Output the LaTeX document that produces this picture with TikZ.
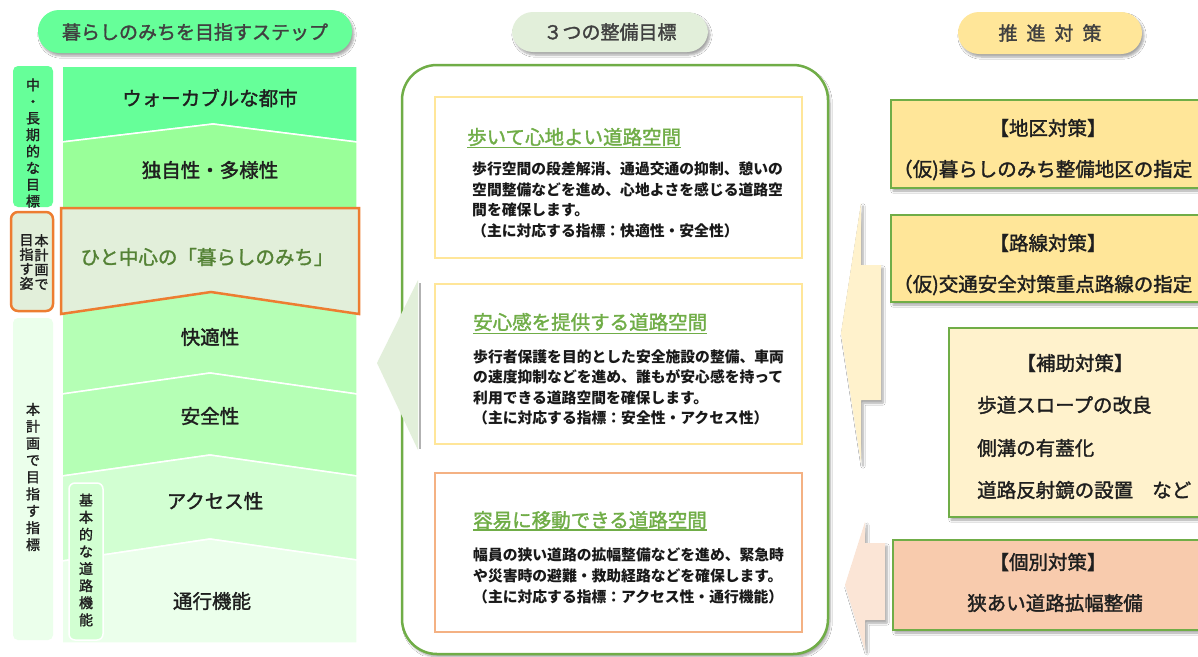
\documentclass[tikz,border=0pt]{standalone}
\usepackage{fontspec}
\setmainfont{Noto Sans CJK JP}
\newfontfamily\jpmed{Noto Sans CJK JP}[FakeBold=1.6]
\usetikzlibrary{shadows.blur}
\definecolor{gA}{HTML}{66FF99}
\definecolor{gB}{HTML}{99FF99}
\definecolor{gC}{HTML}{B5FFB5}
\definecolor{gD}{HTML}{D2FFD2}
\definecolor{gE}{HTML}{EBFFEB}
\definecolor{pale}{HTML}{E2EFDA}
\definecolor{orng}{HTML}{ED7D31}
\definecolor{olive}{HTML}{548235}
\definecolor{grn}{HTML}{70AD47}
\definecolor{ylw}{HTML}{FFE699}
\definecolor{ylwl}{HTML}{FFF2CC}
\definecolor{salm}{HTML}{F8CBAD}
\definecolor{salml}{HTML}{FBE5D6}
\definecolor{salmb}{HTML}{F4B183}
\definecolor{txt}{HTML}{404040}
\tikzset{
  band/.style={draw=white, line width=1.5pt},
  lbl/.style={font=\jpmed\fontsize{19.5}{23}\selectfont, text=black!88, inner sep=0},
  vlbl/.style={font=\jpmed\fontsize{14}{16.6}\selectfont, align=center, inner sep=0, text=black!88},
  softshadow/.style={blur shadow={shadow xshift=2pt, shadow yshift=-3pt, shadow blur steps=6, shadow opacity=35}},
  pill/.style={rounded corners=21pt, softshadow},
  hdr/.style={font=\jpmed\fontsize{19}{23}\selectfont, text=txt, inner sep=0},
  ttl/.style={font=\jpmed\fontsize{19.5}{23}\selectfont, text=grn, anchor=west, inner sep=0},
  body/.style={font=\bfseries\fontsize{14.8}{20.8}\selectfont, align=left, anchor=north west, inner sep=0, text=black!90},
  uline/.style={draw=grn, line width=1.5pt},
  rbox/.style={draw=grn, line width=1.2pt, softshadow},
  rtxt/.style={font=\jpmed\fontsize{19.5}{23}\selectfont, inner sep=0, text=black!88},
}
\begin{document}
\begin{tikzpicture}[x=1pt, y=-1pt]
\useasboundingbox (0,0) rectangle (1198,656);
\fill[white] (0,0) rectangle (1198,656);

% ---------------- left column ----------------
\path[pill, fill=gA] (38,10) rectangle (352,53);
\node[hdr] (hL) at (195,32) {暮らしのみちを目指すステップ};

\path[band, fill=gA] (62,66) -- (357,66) -- (357,142) -- (213,124) -- (62,142) -- cycle;
\path[band, fill=gB] (62,142) -- (213,124) -- (357,142) -- (357,210) -- (62,210) -- cycle;
\path[band, fill=gC] (62,290) -- (357,290) -- (357,394) -- (210,373) -- (62,394) -- cycle;
\path[band, fill=gC] (62,394) -- (210,373) -- (357,394) -- (357,476) -- (210,455) -- (62,476) -- cycle;
\path[band, fill=gD] (62,476) -- (210,455) -- (357,476) -- (357,560) -- (210,539) -- (62,561) -- cycle;
\path[band, fill=gE] (62,561) -- (210,539) -- (357,560) -- (357,643) -- (62,643) -- cycle;
\path[draw=orng, line width=2.5pt, fill=pale] (61,208) -- (359,208) -- (359,314) -- (211,292) -- (61,314) -- cycle;

\node[lbl] (s1) at (210,98) {ウォーカブルな都市};
\node[lbl] (s2) at (210,170) {独自性・多様性};
\node[lbl, text=olive] (s3) at (207,257) {ひと中心の「暮らしのみち」};
\node[lbl] (s4) at (210,337) {快適性};
\node[lbl] (s5) at (210,416) {安全性};
\node[lbl] (s6) at (215,501) {アクセス性};
\node[lbl] (s7) at (212,601) {通行機能};

\path[fill=gA, rounded corners=5pt] (13,66) rectangle (53,207);
\node[vlbl] (v1) at (33,143) {中\\・\\長\\期\\的\\な\\目\\標};
\path[fill=pale, draw=orng, line width=2.5pt, rounded corners=7pt] (11,212) rectangle (53,311);
\node[vlbl, font=\jpmed\fontsize{14}{14.5}\selectfont] (v2a) at (41.5,262) {本\\計\\画\\で};
\node[vlbl, font=\jpmed\fontsize{14}{14.5}\selectfont] (v2b) at (26.5,262) {目\\指\\す\\姿};
\path[fill=gE, rounded corners=5pt] (13,318) rectangle (53,640);
\node[vlbl, font=\jpmed\fontsize{14}{16.9}\selectfont] (v3) at (33,477) {本\\計\\画\\で\\目\\指\\す\\指\\標};
\path[fill=gD, draw=white, line width=1.5pt, rounded corners=6pt] (69,483) rectangle (103,640);
\node[vlbl, font=\jpmed\fontsize{14}{17.1}\selectfont] (v4) at (86,560) {基\\本\\的\\な\\道\\路\\機\\能};

% ---------------- middle column ----------------
\path[pill, fill=pale] (512,12) rectangle (708,52);
\node[hdr] (hM) at (610,32) {３つの整備目標};

\path[draw=grn, line width=2.5pt, fill=white, rounded corners=35pt, softshadow] (402,65) rectangle (828,654);

\path[draw=ylw, line width=1.5pt, fill=white] (435,97) rectangle (802,258);
\node[ttl] (t1) at (467,137) {歩いて心地よい道路空間};
\draw[uline] ([yshift=-1pt]t1.south west) -- ([yshift=-1pt]t1.south east);
\node[body] (b1) at (472,161.5) {歩行空間の段差解消、通過交通の抑制、憩いの\\空間整備などを進め、心地よさを感じる道路空\\間を確保します。\\（主に対応する指標：快適性・安全性）};

\path[draw=ylw, line width=1.5pt, fill=white] (435,284) rectangle (802,444);
\node[ttl] (t2) at (473,322) {安心感を提供する道路空間};
\draw[uline] ([yshift=-2pt]t2.south west) -- ([yshift=-2pt]t2.south east);
\node[body, font=\bfseries\fontsize{14.8}{20.5}\selectfont] (b2) at (473,349.5) {歩行者保護を目的とした安全施設の整備、車両\\の速度抑制などを進め、誰もが安心感を持って\\利用できる道路空間を確保します。\\（主に対応する指標：安全性・アクセス性）};

\path[draw=salmb, line width=1.5pt, fill=white] (435,473) rectangle (802,632);
\node[ttl] (t3) at (473,520) {容易に移動できる道路空間};
\draw[uline] ([yshift=-1pt]t3.south west) -- ([yshift=-1pt]t3.south east);
\node[body, font=\bfseries\fontsize{14.8}{21}\selectfont] (b3) at (473,547.5) {幅員の狭い道路の拡幅整備などを進め、緊急時\\や災害時の避難・救助経路などを確保します。\\（主に対応する指標：アクセス性・通行機能）};

% left-pointing arrow toward steps
\draw[gray!60, line width=2.5pt] (420,283) -- (420,449);
\path[fill=pale] (377,363) -- (418,280) -- (418,450) -- cycle;

% ---------------- right column ----------------
\path[pill, fill=ylw] (958,12) rectangle (1142,54);
\node[hdr] (hR) at (1050,33) {推\hspace{9pt}進\hspace{9pt}対\hspace{9pt}策};

\path[rbox, fill=ylw] (891,100) rectangle (1215,188);
\node[rtxt] (r1a) at (1048,128) {【地区対策】};
\node[rtxt, anchor=west] (r1b) at (893,170) {（仮)暮らしのみち整備地区の指定};

\path[rbox, fill=ylw] (891,215) rectangle (1215,302);
\node[rtxt] (r2a) at (1048,243) {【路線対策】};
\node[rtxt, anchor=west] (r2b) at (893,285) {（仮)交通安全対策重点路線の指定};

\path[rbox, fill=ylwl] (949,328) rectangle (1215,517);
\node[rtxt] (r3a) at (1075,363) {【補助対策】};
\node[rtxt, anchor=west] (r3b) at (977,405) {歩道スロープの改良};
\node[rtxt, anchor=west] (r3c) at (977,448) {側溝の有蓋化};
\node[rtxt, anchor=west] (r3d) at (977,490) {道路反射鏡の設置\hspace{19pt}など};

\path[rbox, fill=salm] (893,540) rectangle (1215,630);
\node[rtxt] (r4a) at (1048,562) {【個別対策】};
\node[rtxt] (r4b) at (1055,603) {狭あい道路拡幅整備};

% right block arrows
\path[fill=ylwl, softshadow] (841,333) -- (861,203) -- (861,265) -- (881,265) -- (881,400) -- (861,400) -- (861,463) -- cycle;
\path[fill=salml, softshadow] (845,585) -- (865,522) -- (865,543) -- (885,543) -- (885,620) -- (865,620) -- (865,650) -- cycle;
\end{tikzpicture}
\end{document}
